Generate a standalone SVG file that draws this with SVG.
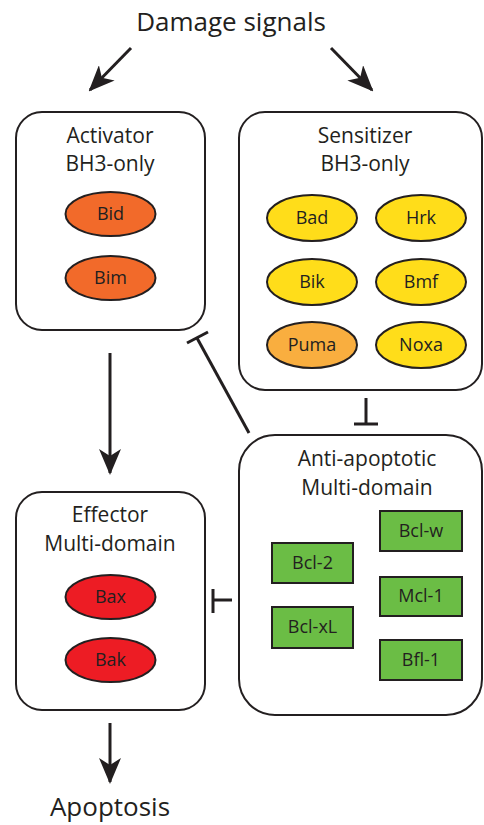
<svg xmlns="http://www.w3.org/2000/svg" width="484" height="825" viewBox="0 0 484 825">
<style>
text{font-family:"Open Sans","Liberation Sans",sans-serif;fill:#231f20;text-anchor:middle}
.t{font-size:21px}
.big{font-size:26px}
.s{font-size:18px}
.box{fill:#fff;stroke:#231f20;stroke-width:2}
.el{stroke:#231f20;stroke-width:2}
.ln{stroke:#231f20;stroke-width:3;fill:none}
</style>
<defs>
<marker id="ah" viewBox="0 0 26 22" refX="24" refY="11" markerWidth="26" markerHeight="22" markerUnits="userSpaceOnUse" orient="auto">
<path d="M0,0 L26,11 L0,22 L7,11 Z" fill="#231f20"/>
</marker>
</defs>
<rect width="484" height="825" fill="#fff"/>
<text class="big" x="231" y="31">Damage signals</text>
<text class="big" x="110" y="816">Apoptosis</text>
<g id="activator">
<rect class="box" x="16" y="112" width="189" height="218" rx="26"/>
<text class="t" x="110" y="143">Activator</text>
<text class="t" x="110" y="171">BH3-only</text>
<ellipse class="el" cx="110.5" cy="214" rx="45" ry="22" fill="#f26a2a"/>
<text class="s" x="110.5" y="220">Bid</text>
<ellipse class="el" cx="110.5" cy="278" rx="45" ry="22" fill="#f26a2a"/>
<text class="s" x="110.5" y="284">Bim</text>
</g>
<g id="sensitizer">
<rect class="box" x="239" y="112" width="243" height="278" rx="26"/>
<text class="t" x="365" y="143">Sensitizer</text>
<text class="t" x="365" y="171">BH3-only</text>
<ellipse class="el" cx="312" cy="218" rx="45" ry="23" fill="#ffdd1a"/>
<text class="s" x="312" y="224">Bad</text>
<ellipse class="el" cx="421" cy="218" rx="45" ry="23" fill="#ffdd1a"/>
<text class="s" x="421" y="224">Hrk</text>
<ellipse class="el" cx="312" cy="282" rx="45" ry="23" fill="#ffdd1a"/>
<text class="s" x="312" y="288">Bik</text>
<ellipse class="el" cx="421" cy="282" rx="45" ry="23" fill="#ffdd1a"/>
<text class="s" x="421" y="288">Bmf</text>
<ellipse class="el" cx="312" cy="345" rx="45" ry="23" fill="#f9ae3f"/>
<text class="s" x="312" y="351">Puma</text>
<ellipse class="el" cx="421" cy="345" rx="45" ry="23" fill="#ffdd1a"/>
<text class="s" x="421" y="351">Noxa</text>
</g>
<g id="antiapoptotic">
<rect class="box" x="239" y="435" width="243" height="280" rx="36"/>
<text class="t" x="367" y="466">Anti-apoptotic</text>
<text class="t" x="367" y="495">Multi-domain</text>
<rect class="el" x="272" y="543" width="81" height="40" fill="#6bbd45"/>
<text class="s" x="312.5" y="569">Bcl-2</text>
<rect class="el" x="272" y="607" width="81" height="41" fill="#6bbd45"/>
<text class="s" x="312.5" y="633">Bcl-xL</text>
<rect class="el" x="380" y="511" width="82" height="40" fill="#6bbd45"/>
<text class="s" x="421" y="537">Bcl-w</text>
<rect class="el" x="380" y="577" width="82" height="39" fill="#6bbd45"/>
<text class="s" x="421" y="602">Mcl-1</text>
<rect class="el" x="380" y="640" width="82" height="40" fill="#6bbd45"/>
<text class="s" x="421" y="666">Bfl-1</text>
</g>
<g id="effector">
<rect class="box" x="16" y="492" width="189" height="218" rx="26"/>
<text class="t" x="110" y="522">Effector</text>
<text class="t" x="110" y="551">Multi-domain</text>
<ellipse class="el" cx="110.5" cy="597" rx="45" ry="22" fill="#ed1c24"/>
<text class="s" x="110.5" y="603">Bax</text>
<ellipse class="el" cx="110.5" cy="660" rx="45" ry="22" fill="#ed1c24"/>
<text class="s" x="110.5" y="666">Bak</text>
</g>
<g id="connectors">
<line class="ln" x1="131" y1="48" x2="90" y2="90" marker-end="url(#ah)"/>
<line class="ln" x1="331" y1="48" x2="372" y2="90" marker-end="url(#ah)"/>
<line class="ln" x1="110" y1="353" x2="110" y2="473" marker-end="url(#ah)"/>
<line class="ln" x1="110" y1="723" x2="110" y2="782" marker-end="url(#ah)"/>
<line class="ln" x1="249" y1="433" x2="197" y2="338"/>
<line class="ln" x1="187" y1="343" x2="208" y2="332"/>
<line class="ln" x1="366" y1="398" x2="366" y2="424"/>
<line class="ln" x1="354" y1="424" x2="378" y2="424"/>
<line class="ln" x1="232" y1="600" x2="213" y2="600"/>
<line class="ln" x1="213" y1="589" x2="213" y2="613"/>
</g>
</svg>
